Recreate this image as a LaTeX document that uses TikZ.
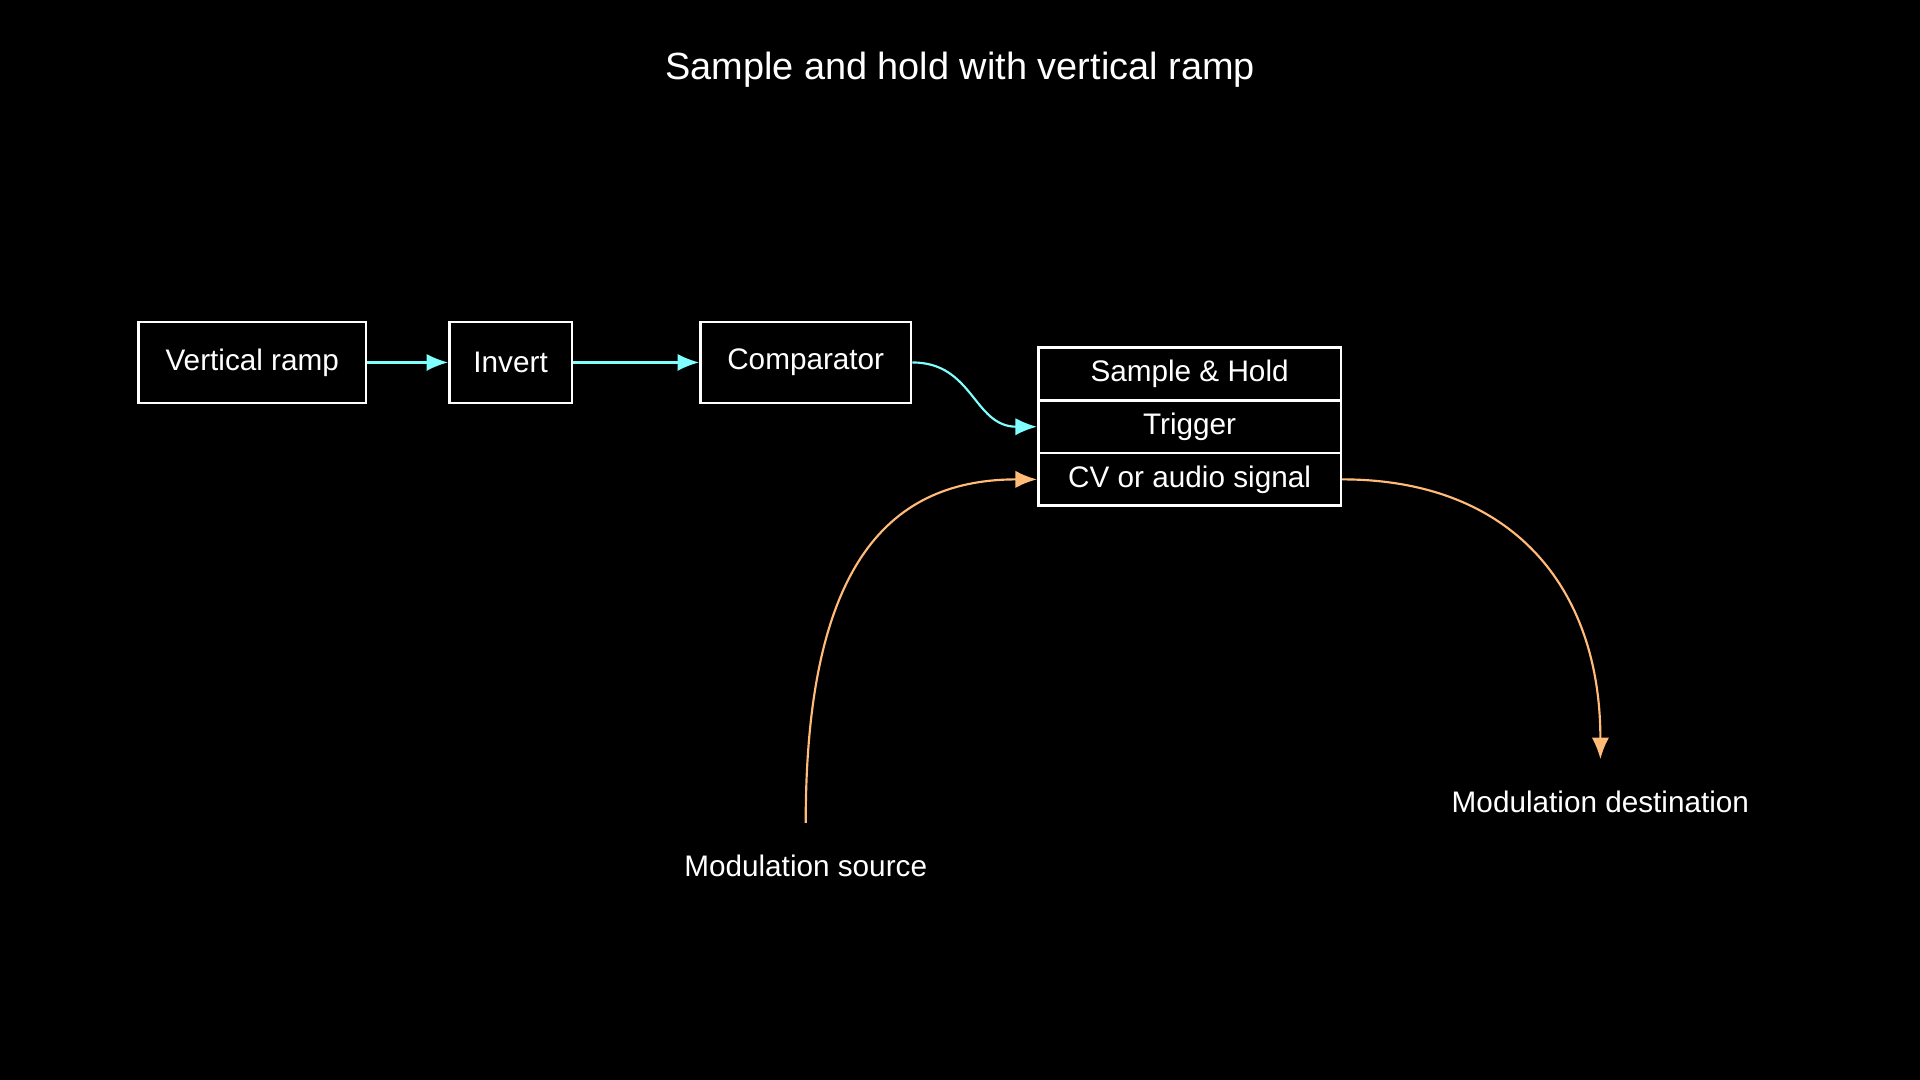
\documentclass[tikz,border=0pt]{standalone}
\usepackage{fontspec}
\setmainfont{Liberation Sans}
\usetikzlibrary{arrows.meta}
\definecolor{cy}{HTML}{80FFFF}
\definecolor{og}{HTML}{FFBB77}
\begin{document}
\begin{tikzpicture}[x=0.01cm,y=-0.01cm,
  box/.style={draw=white,line width=0.6pt,text=white,font=\fontsize{6.9pt}{8pt}\selectfont,inner sep=0pt,minimum height=0.66cm},
  row/.style={draw=white,line width=0.6pt,text=white,font=\fontsize{6.9pt}{8pt}\selectfont,inner sep=0pt,minimum width=2.47cm,minimum height=0.43cm},
  lbl/.style={text=white,font=\fontsize{6.9pt}{8pt}\selectfont},
  ca/.style={cy,line width=0.5pt,-{Latex[length=5pt,width=4pt]}},
  oa/.style={og,line width=0.5pt,-{Latex[length=5pt,width=4pt]}}]
\fill[black] (0,0) rectangle (1568,882);
\useasboundingbox (0,0) rectangle (1568,882);
\node[text=white,font=\fontsize{8.8pt}{10pt}\selectfont] (title) at (784,57) {Sample and hold with vertical ramp};
\node[box,minimum width=1.86cm] (vr) at (206,296) {Vertical ramp};
\node[box,minimum width=1.00cm] (inv) at (417,296) {Invert};
\node[box,minimum width=1.72cm] (cmp) at (658,296) {Comparator};
\node[row] (sh) at (971.5,305.5) {Sample \& Hold};
\node[row] (trig) at (971.5,348.5) {Trigger};
\node[row] (cv) at (971.5,391.5) {CV or audio signal};
\node[lbl] (src) at (658,707) {Modulation source};
\node[lbl] (dst) at (1307,655) {Modulation destination};
\coordinate (srcp) at (658,672);
\coordinate (dstp) at (1307,620);
\draw[ca] (vr.east) -- (inv.west);
\draw[ca] (inv.east) -- (cmp.west);
\draw[ca] (cmp.east) .. controls (795,296) and (795,348.5) .. (trig.west);
\draw[oa] (srcp) .. controls (658,470) and (720,391.5) .. (cv.west);
\draw[oa] (cv.east) .. controls (1235,391.5) and (1307,480) .. (dstp);
\end{tikzpicture}
\end{document}
